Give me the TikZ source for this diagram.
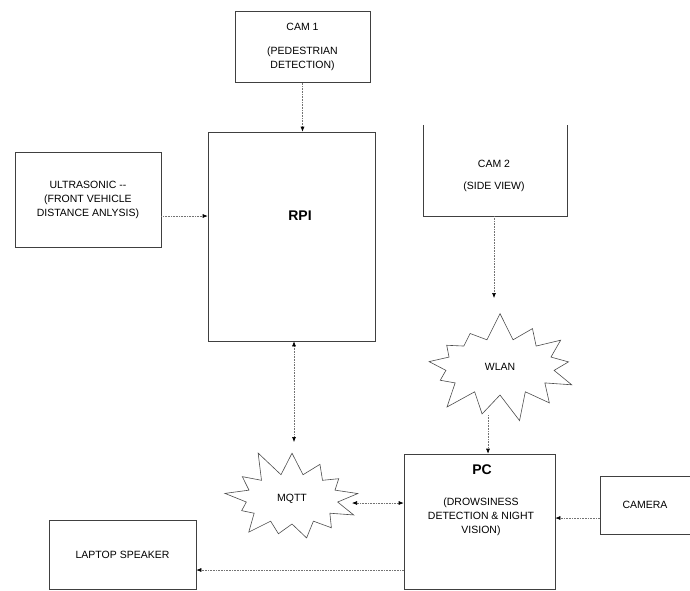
\documentclass[tikz,border=0pt]{standalone}
\usepackage{fontspec}
\setmainfont{Liberation Sans}
\usetikzlibrary{shapes.symbols,arrows.meta}
\begin{document}
\begin{tikzpicture}[x=1pt,y=-1pt,
  every node/.style={font=\fontsize{10.5}{14}\selectfont},
  box/.style={rectangle,draw=black!75,line width=0.6pt,align=center,inner sep=0pt},
  burst/.style={starburst,draw=black!70,line width=0.6pt,starburst points=13,starburst point height=28pt},
  link/.style={draw=black!55,densely dotted,line width=0.6pt,-{Latex[length=5pt,width=4pt,black]}},
  both/.style={link,{Latex[length=5pt,width=4pt,black]}-{Latex[length=5pt,width=4pt,black]}}]
\useasboundingbox (0,0) rectangle (690,590);
\node [box,minimum width=135pt,minimum height=71pt] (cam1) at (302.5,47)
  {CAM 1\\[10pt](PEDESTRIAN\\DETECTION)};
\node [box,minimum width=167pt,minimum height=209pt] (rpi) at (291.5,236.5) {};
\node [font=\fontsize{14}{16}\selectfont\bfseries] (rpitext) at (300,216) {RPI};
\node [box,minimum width=146pt,minimum height=95pt] (ultra) at (88,199.5)
  {ULTRASONIC {-}{-}\\(FRONT VEHICLE\\DISTANCE ANLYSIS)};
\node [minimum width=144pt,minimum height=91pt,inner sep=0pt] (cam2) at (495,170.5) {};
\draw [black!75,line width=0.6pt] (cam2.north west) |- (cam2.south east) -- (cam2.north east);
\node [align=center] (cam2text) at (494,176) {CAM 2\\[8pt](SIDE VIEW)};
\node [burst,minimum width=165pt,minimum height=112pt,random starburst=7] (wlan) at (500,367) {WLAN};
\node [burst,minimum width=148pt,minimum height=106pt,random starburst=11] (mqtt) at (292,499) {MQTT};
\node [box,minimum width=151pt,minimum height=135pt] (pc) at (479.5,521.5) {};
\node [font=\fontsize{14}{16}\selectfont\bfseries] (pctitle) at (482,470) {PC};
\node [align=center] (pcdesc) at (481,517) {(DROWSINESS\\DETECTION \& NIGHT\\VISION)};
\node [box,minimum width=90pt,minimum height=58pt] (camera) at (645,505) {CAMERA};
\node [box,minimum width=147pt,minimum height=69pt] (speaker) at (122.5,554.5) {LAPTOP SPEAKER};
\coordinate (wlanin) at (494,298);
\coordinate (wlanout) at (488,415);
\coordinate (mqttin) at (294,442);
\coordinate (mqttright) at (352,503);
% connectors
\draw [link] (cam1.south) -- (cam1.south |- rpi.north);
\draw [link] ([yshift=-16.5pt]ultra.east) -- ([yshift=-16.5pt]ultra.east -| rpi.west);
\draw [link] (cam2.south -| wlanin) -- (wlanin);
\draw [link] (wlanout) -- (wlanout |- pc.north);
\draw [both] (rpi.south -| mqttin) -- (mqttin);
\draw [both] (mqttright) -- (mqttright -| pc.west);
\draw [link] ([yshift=-13pt]camera.west) -- ([yshift=-13pt]camera.west -| pc.east);
\draw [link] ([yshift=-15.5pt]speaker.east -| pc.west) -- ([yshift=-15.5pt]speaker.east);
\end{tikzpicture}
\end{document}
